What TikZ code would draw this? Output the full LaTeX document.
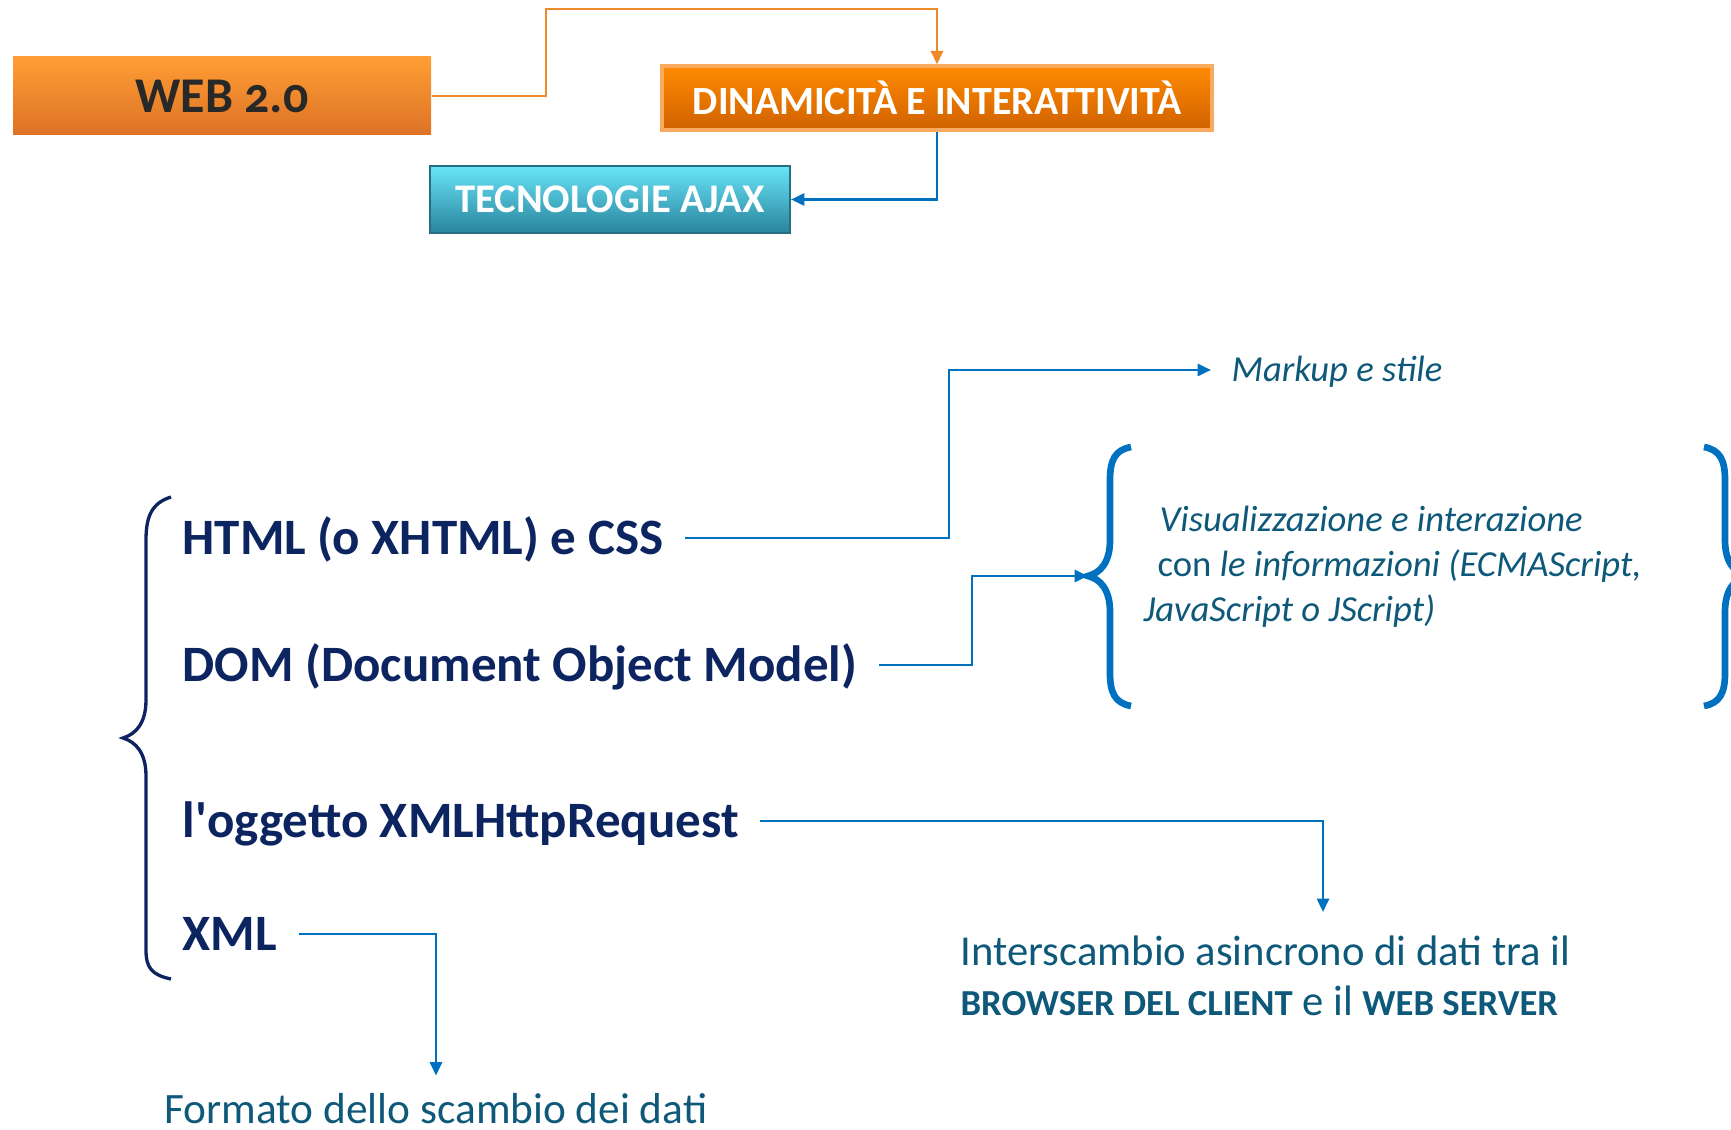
\documentclass[tikz,border=0pt]{standalone}
\usepackage{fontspec}
\setmainfont{Carlito}
\usetikzlibrary{arrows.meta}

\definecolor{navy}{RGB}{12,36,96}
\definecolor{notetxt}{RGB}{14,88,122}
\definecolor{linkblue}{RGB}{0,112,192}
\definecolor{linkorange}{RGB}{240,138,40}
\definecolor{webtop}{RGB}{255,158,52}
\definecolor{webbot}{RGB}{220,114,38}
\definecolor{webtxt}{RGB}{40,40,40}
\definecolor{dintop}{RGB}{255,138,0}
\definecolor{dinbot}{RGB}{208,98,0}
\definecolor{dinedge}{RGB}{250,170,95}
\definecolor{ajaxtop}{RGB}{105,228,248}
\definecolor{ajaxmid}{RGB}{58,178,212}
\definecolor{ajaxbot}{RGB}{40,132,156}
\definecolor{ajaxedge}{RGB}{38,110,130}

\begin{document}
\begin{tikzpicture}[x=3pt,y=3pt]
\tikzstyle{every node}+=[inner sep=0pt]
\tikzstyle{item}=[anchor=west, inner xsep=6.3pt, text=navy, text height=12pt, text depth=2.3pt, font=\fontsize{15.3}{18}\selectfont\bfseries]
\tikzstyle{note}=[text=notetxt, align=left]
\tikzstyle{link}=[draw=linkblue, line width=0.8pt, -{Triangle[length=4pt,width=3.6pt]}]
\useasboundingbox (0,0) rectangle (173.1,-113);
\clip (0,0) rectangle (173.1,-113);
\node [top color=webtop, bottom color=webbot, minimum width=125.4pt, minimum height=23.4pt, text=webtxt, font=\fontsize{15}{18}\selectfont\bfseries] (web) at (22.2,-9.6) {WEB {\addfontfeatures{Numbers=OldStyle}2.0}};
\node [top color=dintop, bottom color=dinbot, draw=dinedge, line width=1pt, minimum width=165pt, minimum height=19.2pt, text=white, font=\fontsize{12}{14}\selectfont\bfseries] (din) at (93.7,-9.8) {DINAMICITÀ E INTERATTIVITÀ};
\node [top color=ajaxtop, middle color=ajaxmid, bottom color=ajaxbot, draw=ajaxedge, line width=0.6pt, minimum width=108pt, minimum height=20.1pt, text=white, font=\fontsize{12.2}{14}\selectfont\bfseries] (ajax) at (61.0,-19.95) {TECNOLOGIE AJAX};
\coordinate (o1) at (54.6,-0.9);
\draw [draw=linkorange, line width=0.8pt, -{Triangle[length=4pt,width=3.6pt]}] (web.east) -| (o1) -| (din.north);
\draw [link] (din.south) |- (ajax.east);
\node [item] (html) at (16.1,-53.8) {HTML (o XHTML) e CSS};
\node [item] (dom) at (16.1,-66.5) {DOM (Document Object Model)};
\node [item] (xhr) at (16.1,-82.1) {l\textquotesingle oggetto XMLHttpRequest};
\node [item] (xml) at (16.1,-93.4) {XML};
\draw [navy, line width=1pt] (17.1,-49.7) .. controls (15.2,-50.3) and (14.6,-51.6) .. (14.6,-54.0) -- (14.6,-70.0) .. controls (14.6,-72.3) and (13.6,-73.4) .. (12.3,-73.8) .. controls (13.6,-74.2) and (14.6,-75.3) .. (14.6,-77.6) -- (14.6,-95.0) .. controls (14.6,-96.8) and (15.2,-97.5) .. (17.1,-97.9);
\node [note, anchor=west, inner xsep=6pt, text height=9pt, text depth=1.9pt, font=\fontsize{11}{13.5}\selectfont\itshape] (markup) at (121.1,-37.0) {Markup e stile};
\node [note, anchor=base west, font=\fontsize{11}{13.5}\selectfont\itshape] (vis) at (114.3,-62.2) {\hspace*{4.8pt}Visualizzazione e interazione\\\hspace*{4.2pt}\textup{con} le informazioni (ECMAScript,\\JavaScript o JScript)};
\coordinate (vtip) at (108.8,-57.6);
\draw [linkblue, line width=2pt] (113.1,-44.7) .. controls (111.5,-45.0) and (111.0,-46.0) .. (111.0,-48.0) -- (111.0,-54.0) .. controls (111.0,-56.3) and (110.0,-57.3) .. (vtip) .. controls (110.0,-57.9) and (111.0,-58.9) .. (111.0,-61.2) -- (111.0,-67.3) .. controls (111.0,-69.3) and (111.5,-70.3) .. (113.1,-70.6);
\draw [linkblue, line width=2pt] (170.4,-44.7) .. controls (172.0,-45.0) and (172.5,-46.0) .. (172.5,-48.0) -- (172.5,-54.0) .. controls (172.5,-56.3) and (173.5,-57.3) .. (174.7,-57.6) .. controls (173.5,-57.9) and (172.5,-58.9) .. (172.5,-61.2) -- (172.5,-67.3) .. controls (172.5,-69.3) and (172.0,-70.3) .. (170.4,-70.6);
\node [note, anchor=base west, font=\fontsize{12.8}{15}\selectfont] (inter) at (96.0,-101.5) {Interscambio asincrono di dati tra il\\{\fontsize{11}{15}\selectfont\bfseries BROWSER DEL CLIENT} e il {\fontsize{11}{15}\selectfont\bfseries WEB SERVER}};
\node [note, anchor=base, inner ysep=5pt, font=\fontsize{13}{15}\selectfont] (fmt) at (43.6,-112.3) {Formato dello scambio dei dati};
\coordinate (h1) at (94.9,-37.0);
\draw [link] (html.east) -| (h1) -- (markup.west);
\coordinate (d1) at (97.2,-57.6);
\draw [link] (dom.east) -| (d1) -- (vtip);
\coordinate (x1) at (132.3,-91.2);
\draw [link] (xhr.east) -| (x1);
\draw [link] (xml.east) -| (fmt.north);
\end{tikzpicture}
\end{document}
